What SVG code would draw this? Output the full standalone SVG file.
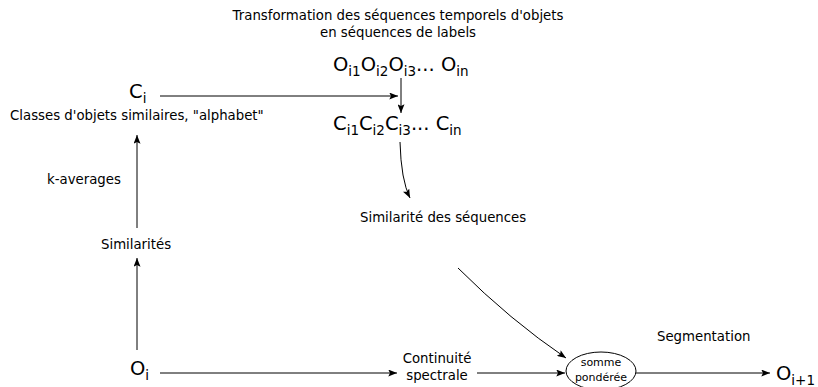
<svg xmlns="http://www.w3.org/2000/svg" width="818" height="387" viewBox="0 0 818 387">
<defs>
<marker id="ah" viewBox="0 0 10 8" refX="10" refY="4" markerWidth="9" markerHeight="7" markerUnits="userSpaceOnUse" orient="auto">
<path d="M0,0 L10,4 L0,8 L2,4 Z" fill="#000"/>
</marker>
</defs>
<style>
text{font-family:"DejaVu Sans","Liberation Sans",sans-serif;fill:#000}
.s{font-size:13.3px}
.b{font-size:19.5px}
.sub{font-size:13.5px}
.sm{font-size:11px}
.c{fill:none;stroke:#000;stroke-width:1;marker-end:url(#ah)}
</style>
<rect width="818" height="387" fill="#fff"/>
<g id="title">
<text class="s" x="398" y="20" text-anchor="middle">Transformation des séquences temporels d'objets</text>
<text class="s" x="398" y="37" text-anchor="middle">en séquences de labels</text>
</g>
<g id="oseq">
<text class="b" x="333" y="71">O<tspan class="sub" dy="5">i1</tspan><tspan dy="-5">O</tspan><tspan class="sub" dy="5">i2</tspan><tspan dy="-5">O</tspan><tspan class="sub" dy="5">i3</tspan><tspan dy="-5">... O</tspan><tspan class="sub" dy="5">in</tspan></text>
</g>
<g id="cseq">
<text class="b" x="333" y="130">C<tspan class="sub" dy="5">i1</tspan><tspan dy="-5">C</tspan><tspan class="sub" dy="5">i2</tspan><tspan dy="-5">C</tspan><tspan class="sub" dy="5">i3</tspan><tspan dy="-5">... C</tspan><tspan class="sub" dy="5">in</tspan></text>
</g>
<g id="ci">
<text class="b" x="129" y="98">C<tspan class="sub" dy="5">i</tspan></text>
<text class="s" x="10" y="120">Classes d'objets similaires, "alphabet"</text>
</g>
<g id="kavg"><text class="s" x="47" y="184">k-averages</text></g>
<g id="simil"><text class="s" x="101" y="249">Similarités</text></g>
<g id="oi"><text class="b" x="130" y="375">O<tspan class="sub" dy="5">i</tspan></text></g>
<g id="simseq"><text class="s" x="360" y="222">Similarité des séquences</text></g>
<g id="cont">
<text class="s" x="437" y="363" text-anchor="middle">Continuité</text>
<text class="s" x="437" y="380" text-anchor="middle">spectrale</text>
</g>
<g id="somme">
<ellipse cx="601" cy="371" rx="35" ry="19" fill="#fff" stroke="#000" stroke-width="1"/>
<text class="sm" x="601" y="366" text-anchor="middle">somme</text>
<text class="sm" x="601" y="381" text-anchor="middle">pondérée</text>
</g>
<g id="seg"><text class="s" x="657" y="341">Segmentation</text></g>
<g id="oi1"><text class="b" x="776" y="380">O<tspan class="sub" dy="5">i+1</tspan></text></g>
<g id="connectors">
<path class="c" d="M160,96 L398,96"/>
<path class="c" d="M401,78 L401,113"/>
<path class="c" d="M137,350 L137,258"/>
<path class="c" d="M137,228 L137,135"/>
<path class="c" d="M400,142 Q401,180 410,198"/>
<path class="c" d="M458,268 Q510,320 566,358"/>
<path class="c" d="M160,373 L397,373"/>
<path class="c" d="M477,373 L565,373"/>
<path class="c" d="M636,373 L770,373"/>
</g>
</svg>
